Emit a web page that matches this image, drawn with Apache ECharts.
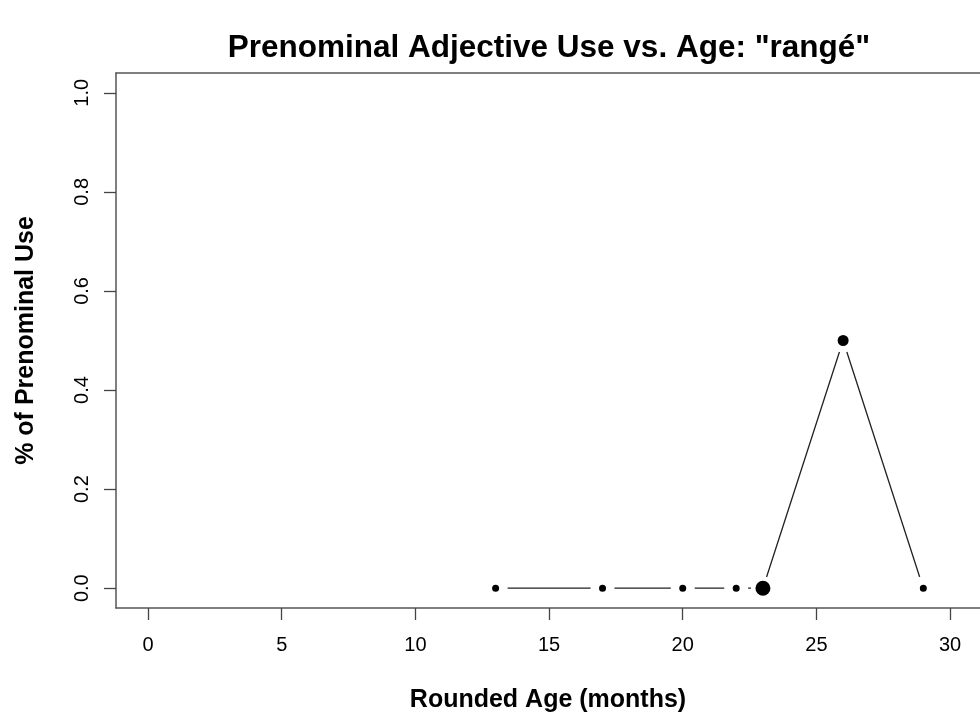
<!DOCTYPE html>
<html>
<head>
<meta charset="utf-8">
<script src="https://cdn.jsdelivr.net/npm/echarts@6/dist/echarts.min.js"></script>
<style>html,body{margin:0;padding:0;background:#fff}#c{width:980px;height:719px}</style>
</head>
<body>
<div id="c"></div>
<script>
const ages = [13, 17, 20, 22, 23, 26, 29];
const prenominalShare = [0, 0, 0, 0, 0, 0.5, 0];
const pointDiameters = [7, 7, 7, 7, 15, 11, 7];
const xTicks = [0, 5, 10, 15, 20, 25, 30];
const yTicks = [0, 0.2, 0.4, 0.6, 0.8, 1.0];

const GAP = 12;
const data = ages.map((a, i) => {
  const r = pointDiameters[i] / 2;
  return {
    value: [a, prenominalShare[i]],
    symbolSize: r + GAP,
    itemStyle: { color: '#000', borderColor: '#fff', borderWidth: GAP - r }
  };
});

const font = '"Liberation Sans", Arial, Helvetica, sans-serif';
const boxLine = { show: true, onZero: false, lineStyle: { color: '#555', width: 1.5 } };
const chart = echarts.init(document.getElementById('c'), null, { renderer: 'canvas' });
chart.setOption({
  animation: false,
  title: {
    text: 'Prenominal Adjective Use vs. Age: "rangé"',
    left: 544, top: 27, textAlign: 'center',
    textStyle: { fontFamily: font, fontWeight: 'bold', fontSize: 31.5, color: '#000' }
  },
  grid: {
    left: 116, top: 73, right: 0, height: 535, show: false
  },
  xAxis: [{
    type: 'value', min: -1.2, max: 31.12,
    name: 'Rounded Age (months)', nameLocation: 'middle', nameGap: 80,
    nameTextStyle: { fontFamily: font, fontWeight: 'bold', fontSize: 25, color: '#000' },
    axisLine: boxLine,
    splitLine: { show: false },
    axisTick: { show: true, length: 12, lineStyle: { color: '#444', width: 1.3 }, customValues: xTicks },
    axisLabel: { fontFamily: font, fontSize: 20, color: '#000', margin: 27, customValues: xTicks, formatter: v => String(v) }
  }, {
    type: 'value', position: 'top', min: -1.2, max: 31.12,
    axisLine: boxLine, axisTick: { show: false }, axisLabel: { show: false }, splitLine: { show: false }
  }],
  yAxis: {
    type: 'value', min: -0.04, max: 1.04,
    name: '% of Prenominal Use', nameLocation: 'middle', nameGap: 77, nameRotate: 90,
    nameTextStyle: { fontFamily: font, fontWeight: 'bold', fontSize: 25, color: '#000' },
    axisLine: boxLine,
    splitLine: { show: false },
    axisTick: { show: true, length: 12, lineStyle: { color: '#444', width: 1.3 }, customValues: yTicks },
    axisLabel: { fontFamily: font, fontSize: 20, color: '#000', margin: 24, rotate: 90, customValues: yTicks, formatter: v => v.toFixed(1) }
  },
  series: [{
    type: 'line',
    xAxisIndex: 0,
    data: data,
    symbol: 'circle',
    showAllSymbol: true,
    lineStyle: { color: '#222', width: 1.3 },
    z: 3
  }]
});
</script>
</body>
</html>
